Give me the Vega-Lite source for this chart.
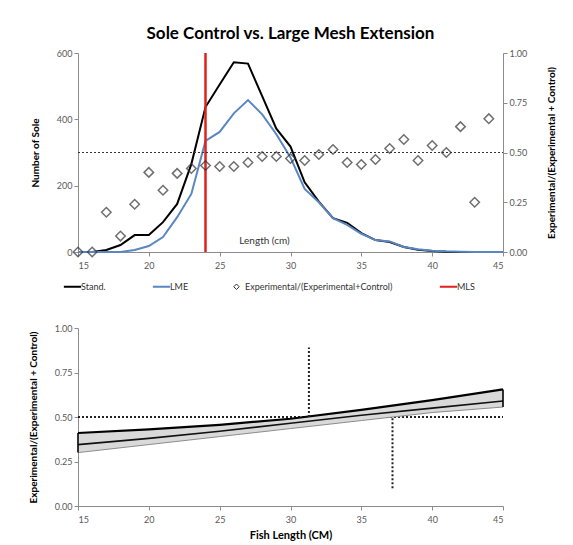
{
  "$schema": "https://vega.github.io/schema/vega-lite/v6.json",
  "padding": {"left": 28, "top": 25, "right": 5, "bottom": 5},
  "background": "white",
  "config": {
    "font": "Lato",
    "view": {"stroke": null},
    "axis": {"labelColor": "#595959", "labelFontSize": 9, "domainColor": "#8c8c8c", "tickColor": "#8c8c8c", "tickSize": 4, "grid": false, "titleFontSize": 10, "titleFontWeight": "bold", "titleColor": "#000000", "titlePadding": 16},
    "concat": {"spacing": 54}
  },
  "datasets": {
    "catch": [
      {"L": 15, "series": "Stand.", "n": 0}, {"L": 16, "series": "Stand.", "n": 0}, {"L": 17, "series": "Stand.", "n": 6}, {"L": 18, "series": "Stand.", "n": 21}, {"L": 19, "series": "Stand.", "n": 51}, {"L": 20, "series": "Stand.", "n": 51}, {"L": 21, "series": "Stand.", "n": 90}, {"L": 22, "series": "Stand.", "n": 145}, {"L": 23, "series": "Stand.", "n": 265}, {"L": 24, "series": "Stand.", "n": 437}, {"L": 25, "series": "Stand.", "n": 505}, {"L": 26, "series": "Stand.", "n": 572}, {"L": 27, "series": "Stand.", "n": 568}, {"L": 28, "series": "Stand.", "n": 470}, {"L": 29, "series": "Stand.", "n": 372}, {"L": 30, "series": "Stand.", "n": 318}, {"L": 31, "series": "Stand.", "n": 210}, {"L": 32, "series": "Stand.", "n": 152}, {"L": 33, "series": "Stand.", "n": 102}, {"L": 34, "series": "Stand.", "n": 88}, {"L": 35, "series": "Stand.", "n": 57}, {"L": 36, "series": "Stand.", "n": 36}, {"L": 37, "series": "Stand.", "n": 30}, {"L": 38, "series": "Stand.", "n": 15}, {"L": 39, "series": "Stand.", "n": 7}, {"L": 40, "series": "Stand.", "n": 3}, {"L": 41, "series": "Stand.", "n": 1}, {"L": 42, "series": "Stand.", "n": 0}, {"L": 43, "series": "Stand.", "n": 0}, {"L": 44, "series": "Stand.", "n": 0}, {"L": 45, "series": "Stand.", "n": 0},
      {"L": 15, "series": "LME", "n": 0}, {"L": 16, "series": "LME", "n": 0}, {"L": 17, "series": "LME", "n": 0}, {"L": 18, "series": "LME", "n": 0}, {"L": 19, "series": "LME", "n": 6}, {"L": 20, "series": "LME", "n": 18}, {"L": 21, "series": "LME", "n": 45}, {"L": 22, "series": "LME", "n": 105}, {"L": 23, "series": "LME", "n": 175}, {"L": 24, "series": "LME", "n": 335}, {"L": 25, "series": "LME", "n": 362}, {"L": 26, "series": "LME", "n": 418}, {"L": 27, "series": "LME", "n": 458}, {"L": 28, "series": "LME", "n": 415}, {"L": 29, "series": "LME", "n": 355}, {"L": 30, "series": "LME", "n": 285}, {"L": 31, "series": "LME", "n": 190}, {"L": 32, "series": "LME", "n": 150}, {"L": 33, "series": "LME", "n": 102}, {"L": 34, "series": "LME", "n": 82}, {"L": 35, "series": "LME", "n": 55}, {"L": 36, "series": "LME", "n": 36}, {"L": 37, "series": "LME", "n": 32}, {"L": 38, "series": "LME", "n": 15}, {"L": 39, "series": "LME", "n": 8}, {"L": 40, "series": "LME", "n": 4}, {"L": 41, "series": "LME", "n": 2}, {"L": 42, "series": "LME", "n": 1}, {"L": 43, "series": "LME", "n": 0}, {"L": 44, "series": "LME", "n": 0}, {"L": 45, "series": "LME", "n": 0}
    ],
    "prop": [
      {"L": 15, "p": 0.0}, {"L": 16, "p": 0.0}, {"L": 17, "p": 0.2}, {"L": 18, "p": 0.08}, {"L": 19, "p": 0.24}, {"L": 20, "p": 0.4}, {"L": 21, "p": 0.31}, {"L": 22, "p": 0.395}, {"L": 23, "p": 0.42}, {"L": 24, "p": 0.435}, {"L": 25, "p": 0.43}, {"L": 26, "p": 0.43}, {"L": 27, "p": 0.45}, {"L": 28, "p": 0.48}, {"L": 29, "p": 0.48}, {"L": 30, "p": 0.47}, {"L": 31, "p": 0.46}, {"L": 32, "p": 0.49}, {"L": 33, "p": 0.515}, {"L": 34, "p": 0.45}, {"L": 35, "p": 0.44}, {"L": 36, "p": 0.465}, {"L": 37, "p": 0.52}, {"L": 38, "p": 0.565}, {"L": 39, "p": 0.46}, {"L": 40, "p": 0.535}, {"L": 41, "p": 0.5}, {"L": 42, "p": 0.63}, {"L": 43, "p": 0.25}, {"L": 44, "p": 0.67}
    ],
    "band": [
      {"L": 15, "upper": 0.41, "mid": 0.345, "lower": 0.3},
      {"L": 20, "upper": 0.43, "mid": 0.38, "lower": 0.345},
      {"L": 25, "upper": 0.456, "mid": 0.42, "lower": 0.39},
      {"L": 30, "upper": 0.49, "mid": 0.465, "lower": 0.435},
      {"L": 35, "upper": 0.54, "mid": 0.51, "lower": 0.48},
      {"L": 40, "upper": 0.595, "mid": 0.55, "lower": 0.525},
      {"L": 45, "upper": 0.655, "mid": 0.59, "lower": 0.556}
    ],
    "l50": [
      {"L": 31.3, "from": 0.5, "to": 0.89},
      {"L": 37.2, "from": 0.1, "to": 0.5}
    ]
  },
  "vconcat": [
    {
      "title": {"text": "Sole Control vs. Large Mesh Extension", "fontSize": 17, "fontWeight": "bold", "anchor": "middle", "offset": 6, "color": "#000000"},
      "width": 425,
      "height": 199,
      "layer": [
        {
          "layer": [
            {
              "data": {"name": "catch"},
              "mark": {"type": "line", "strokeWidth": 2},
              "encoding": {
                "x": {"field": "L", "type": "quantitative", "scale": {"domain": [15, 45], "padding": 0, "nice": false}, "axis": {"values": [15, 20, 25, 30, 35, 40, 45], "labelPadding": 5, "title": "Length (cm)", "titleFontWeight": "normal", "titleFontSize": 10, "titleY": -17, "titleX": 186, "titleAlign": "center", "titleColor": "#333333"}},
                "y": {"field": "n", "type": "quantitative", "scale": {"domain": [0, 600]}, "axis": {"title": "Number of Sole", "values": [0, 100, 200, 300, 400, 500, 600]}},
                "color": {
                  "field": "series", "type": "nominal",
                  "scale": {"domain": ["Stand.", "LME", "Experimental/(Experimental+Control)", "MLS"], "range": ["#000000", "#5a87c2", "#333333", "#e0201c"]},
                  "legend": {
                    "title": null, "orient": "none", "legendX": -10, "legendY": 229, "direction": "horizontal",
                    "columnPadding": 42, "labelFontSize": 9, "labelColor": "#333333", "symbolStrokeWidth": 2, "symbolSize": 300,
                    "encode": {"symbols": {"update": {
                      "shape": {"signal": "datum.value === 'Experimental/(Experimental+Control)' ? 'diamond' : 'stroke'"},
                      "size": {"signal": "datum.value === 'Experimental/(Experimental+Control)' ? 30 : 300"},
                      "strokeWidth": {"signal": "datum.value === 'Experimental/(Experimental+Control)' ? 1 : 2"},
                      "fill": {"value": "transparent"}
                    }}}
                  }
                }
              }
            },
            {
              "data": {"values": [{"L": 24}]},
              "mark": {"type": "rule", "color": "#e0201c", "strokeWidth": 2.5},
              "encoding": {"x": {"field": "L", "type": "quantitative"}, "y": {"datum": 0}, "y2": {"datum": 600}}
            }
          ]
        },
        {
          "layer": [
            {
              "data": {"values": [{"L": 15, "L2": 45, "p": 0.5}]},
              "mark": {"type": "rule", "color": "#333333", "strokeWidth": 1.2, "strokeDash": [2, 2]},
              "encoding": {"x": {"field": "L", "type": "quantitative"}, "x2": {"field": "L2"}, "y": {"field": "p", "type": "quantitative"}}
            },
            {
              "data": {"name": "prop"},
              "mark": {"type": "point", "shape": "diamond", "size": 90, "filled": false, "strokeWidth": 1.5, "color": "#333333"},
              "encoding": {
                "x": {"field": "L", "type": "quantitative"},
                "y": {"field": "p", "type": "quantitative", "scale": {"domain": [0, 1]}, "axis": {"orient": "right", "title": "Experimental/(Experimental + Control)", "format": ".2f", "values": [0, 0.25, 0.5, 0.75, 1], "titleAngle": 270, "titlePadding": 30}}
              }
            }
          ]
        }
      ],
      "resolve": {"scale": {"y": "independent"}}
    },
    {
      "width": 425,
      "height": 178,
      "encoding": {
        "x": {"field": "L", "type": "quantitative", "scale": {"domain": [15, 45], "padding": 0, "nice": false}, "axis": {"values": [15, 20, 25, 30, 35, 40, 45], "labelPadding": 5, "title": "Fish Length (CM)", "titleFontSize": 11, "titlePadding": 5}}
      },
      "layer": [
        {
          "data": {"values": [{"L": 15, "L2": 45, "p": 0.5}]},
          "mark": {"type": "rule", "color": "#222222", "strokeWidth": 2, "strokeDash": [2, 2]},
          "encoding": {"x2": {"field": "L2"}, "y": {"field": "p", "type": "quantitative", "scale": {"domain": [0, 1]}, "axis": {"title": "Experimental/(Experimental + Control)", "format": ".2f", "values": [0, 0.25, 0.5, 0.75, 1]}}}
        },
        {
          "data": {"name": "band"},
          "mark": {"type": "area", "color": "#d9d9d9", "opacity": 1},
          "encoding": {"y": {"field": "lower", "type": "quantitative"}, "y2": {"field": "upper"}}
        },
        {
          "data": {"name": "band"},
          "mark": {"type": "line", "color": "#8c8c8c", "strokeWidth": 1},
          "encoding": {"y": {"field": "lower", "type": "quantitative"}}
        },
        {
          "data": {"name": "band"},
          "mark": {"type": "line", "color": "#111111", "strokeWidth": 1.6},
          "encoding": {"y": {"field": "mid", "type": "quantitative"}}
        },
        {
          "data": {"name": "band"},
          "mark": {"type": "line", "color": "#000000", "strokeWidth": 2.2},
          "encoding": {"y": {"field": "upper", "type": "quantitative"}}
        },
        {
          "data": {"name": "band"},
          "transform": [{"filter": "datum.L == 15 || datum.L == 45"}],
          "mark": {"type": "rule", "color": "#000000", "strokeWidth": 1.6},
          "encoding": {"y": {"field": "lower", "type": "quantitative"}, "y2": {"field": "upper"}}
        },
        {
          "data": {"name": "l50"},
          "mark": {"type": "rule", "color": "#222222", "strokeWidth": 2, "strokeDash": [2, 2]},
          "encoding": {"y": {"field": "from", "type": "quantitative"}, "y2": {"field": "to"}}
        }
      ]
    }
  ]
}
